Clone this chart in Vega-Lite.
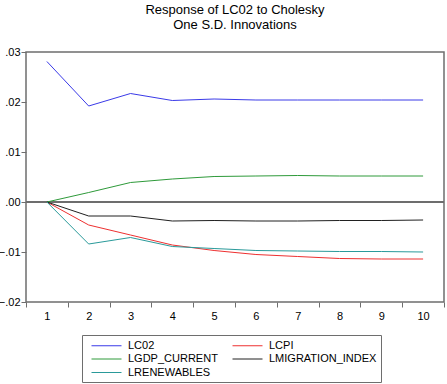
{
  "$schema": "https://vega.github.io/schema/vega-lite/v6.json",
  "autosize": "none",
  "width": 418,
  "height": 250,
  "padding": {"left": 26, "top": 52, "right": 3, "bottom": 82},
  "background": "white",
  "config": {
    "font": "Liberation Sans",
    "view": {"stroke": "#6e6e6e", "strokeWidth": 1.5},
    "axis": {
      "domain": false,
      "grid": false,
      "tickColor": "#6e6e6e",
      "tickSize": 5,
      "tickWidth": 1,
      "labelFont": "Liberation Sans",
      "labelFontSize": 11,
      "labelColor": "#000000",
      "title": null
    }
  },
  "title": {
    "text": ["Response of LC02 to Cholesky", "One S.D. Innovations"],
    "font": "Liberation Sans",
    "fontSize": 13,
    "fontWeight": "normal",
    "lineHeight": 15,
    "color": "#000000",
    "anchor": "middle",
    "offset": 14
  },
  "data": {
    "values": [
      {"period": 1, "series": "LC02", "response": 0.0281},
      {"period": 2, "series": "LC02", "response": 0.0192},
      {"period": 3, "series": "LC02", "response": 0.0217},
      {"period": 4, "series": "LC02", "response": 0.0203},
      {"period": 5, "series": "LC02", "response": 0.0206},
      {"period": 6, "series": "LC02", "response": 0.0204},
      {"period": 7, "series": "LC02", "response": 0.0204},
      {"period": 8, "series": "LC02", "response": 0.0204},
      {"period": 9, "series": "LC02", "response": 0.0204},
      {"period": 10, "series": "LC02", "response": 0.0204},
      {"period": 1, "series": "LCPI", "response": 0.0},
      {"period": 2, "series": "LCPI", "response": -0.0046},
      {"period": 3, "series": "LCPI", "response": -0.0066},
      {"period": 4, "series": "LCPI", "response": -0.0086},
      {"period": 5, "series": "LCPI", "response": -0.0097},
      {"period": 6, "series": "LCPI", "response": -0.0105},
      {"period": 7, "series": "LCPI", "response": -0.0109},
      {"period": 8, "series": "LCPI", "response": -0.0113},
      {"period": 9, "series": "LCPI", "response": -0.0114},
      {"period": 10, "series": "LCPI", "response": -0.0114},
      {"period": 1, "series": "LGDP_CURRENT", "response": 0.0},
      {"period": 2, "series": "LGDP_CURRENT", "response": 0.0019},
      {"period": 3, "series": "LGDP_CURRENT", "response": 0.0039},
      {"period": 4, "series": "LGDP_CURRENT", "response": 0.0046},
      {"period": 5, "series": "LGDP_CURRENT", "response": 0.0051},
      {"period": 6, "series": "LGDP_CURRENT", "response": 0.0052},
      {"period": 7, "series": "LGDP_CURRENT", "response": 0.0053},
      {"period": 8, "series": "LGDP_CURRENT", "response": 0.0052},
      {"period": 9, "series": "LGDP_CURRENT", "response": 0.0052},
      {"period": 10, "series": "LGDP_CURRENT", "response": 0.0052},
      {"period": 1, "series": "LMIGRATION_INDEX", "response": 0.0},
      {"period": 2, "series": "LMIGRATION_INDEX", "response": -0.0028},
      {"period": 3, "series": "LMIGRATION_INDEX", "response": -0.0028},
      {"period": 4, "series": "LMIGRATION_INDEX", "response": -0.0038},
      {"period": 5, "series": "LMIGRATION_INDEX", "response": -0.0037},
      {"period": 6, "series": "LMIGRATION_INDEX", "response": -0.0038},
      {"period": 7, "series": "LMIGRATION_INDEX", "response": -0.0038},
      {"period": 8, "series": "LMIGRATION_INDEX", "response": -0.0037},
      {"period": 9, "series": "LMIGRATION_INDEX", "response": -0.0037},
      {"period": 10, "series": "LMIGRATION_INDEX", "response": -0.0036},
      {"period": 1, "series": "LRENEWABLES", "response": 0.0},
      {"period": 2, "series": "LRENEWABLES", "response": -0.0084},
      {"period": 3, "series": "LRENEWABLES", "response": -0.0071},
      {"period": 4, "series": "LRENEWABLES", "response": -0.0089},
      {"period": 5, "series": "LRENEWABLES", "response": -0.0093},
      {"period": 6, "series": "LRENEWABLES", "response": -0.0097},
      {"period": 7, "series": "LRENEWABLES", "response": -0.0098},
      {"period": 8, "series": "LRENEWABLES", "response": -0.0099},
      {"period": 9, "series": "LRENEWABLES", "response": -0.0099},
      {"period": 10, "series": "LRENEWABLES", "response": -0.0100}
    ]
  },
  "layer": [
    {
      "mark": {"type": "rule", "color": "#6e6e6e", "strokeWidth": 1.5},
      "encoding": {"y": {"datum": 0, "type": "quantitative"}}
    },
    {
      "mark": {"type": "line", "strokeWidth": 1},
      "encoding": {
        "x": {
          "field": "period",
          "type": "quantitative",
          "scale": {"domain": [0.5, 10.5], "nice": false, "zero": false},
          "axis": {
            "values": [0.5, 1.5, 2.5, 3.5, 4.5, 5.5, 6.5, 7.5, 8.5, 9.5, 10.5],
            "labelExpr": "datum.value > 10 ? '' : format(datum.value + 0.5, 'd')",
            "labelOffset": 20.9,
            "labelOverlap": false,
            "labelBound": false,
            "labelFlush": false,
            "labelPadding": 3
          }
        },
        "y": {
          "field": "response",
          "type": "quantitative",
          "scale": {"domain": [-0.02, 0.03], "nice": false, "zero": false},
          "axis": {
            "values": [-0.02, -0.01, 0, 0.01, 0.02, 0.03],
            "labelExpr": "replace(format(datum.value, '.2f'), '0.', '.')",
            "labelPadding": 1,
            "labelOverlap": false,
            "labelBound": false,
            "labelFlush": false
          }
        },
        "color": {
          "field": "series",
          "type": "nominal",
          "scale": {
            "domain": ["LC02", "LCPI", "LGDP_CURRENT", "LMIGRATION_INDEX", "LRENEWABLES"],
            "range": ["#3a3ae8", "#ee3030", "#2e9a3a", "#202020", "#2a9a9a"]
          },
          "legend": {
            "title": null,
            "orient": "none",
            "legendX": 56,
            "legendY": 283,
            "direction": "horizontal",
            "columns": 2,
            "symbolType": "M-1,0H4",
            "symbolSize": 144,
            "symbolOffset": 5,
            "symbolStrokeWidth": 1,
            "labelFont": "Liberation Sans",
            "labelFontSize": 11,
            "labelColor": "#000000",
            "labelOffset": 24,
            "labelLimit": 300,
            "columnPadding": 9,
            "rowPadding": 1.5,
            "padding": 4,
            "strokeColor": "#6e6e6e",
            "fillColor": "white"
          }
        }
      }
    }
  ]
}
